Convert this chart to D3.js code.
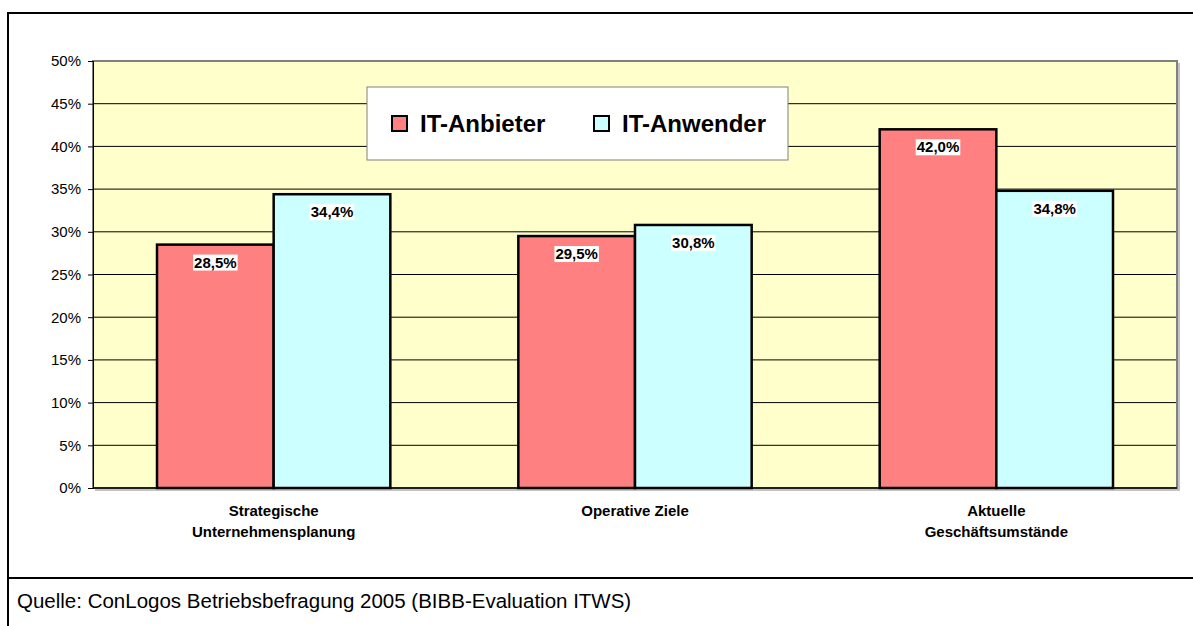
<!DOCTYPE html>
<html><head><meta charset="utf-8">
<script src="https://cdn.jsdelivr.net/npm/d3@7"></script>
<style>body{margin:0;background:#fff}svg{display:block;font-family:Arial,"Liberation Sans",sans-serif}</style>
</head><body>
<script>
const categories = [["Strategische","Unternehmensplanung"],["Operative Ziele"],["Aktuelle","Geschäftsumstände"]];
const seriesNames = ["IT-Anbieter","IT-Anwender"];
const anbieter = [28.5, 29.5, 42.0];
const anwender = [34.4, 30.8, 34.8];
const yTicks = [0,5,10,15,20,25,30,35,40,45,50];
const colors = ["#FF8080","#CCFFFF"];
const source = "Quelle: ConLogos Betriebsbefragung 2005 (BIBB-Evaluation ITWS)";

const W=1193,H=626;
const svg=d3.select("body").append("svg").attr("width",W).attr("height",H);
const L=93,R=1177,T=61,B=488;
const x0=d3.scaleBand().domain(d3.range(categories.length)).range([L,R]).paddingInner(0).paddingOuter(0);
const x1=d3.scaleBand().domain([0,1]).range([64, x0.bandwidth()-64]);
const y=d3.scaleLinear().domain([0,50]).range([B,T]);

// frame
svg.append("path").attr("d",`M8,${H+2}V13H${W+2}`).attr("fill","none").attr("stroke","#000").attr("stroke-width",2);
svg.append("line").attr("x1",8).attr("x2",W+2).attr("y1",578).attr("y2",578).attr("stroke","#000").attr("stroke-width",2);

// plot bg
svg.append("rect").attr("x",L).attr("y",T).attr("width",R-L).attr("height",B-T).attr("fill","#FFFFCC");
// gridlines
svg.append("g").selectAll("line").data(yTicks).join("line")
  .attr("x1",L).attr("x2",R).attr("y1",d=>y(d)).attr("y2",d=>y(d)).attr("stroke","#000").attr("stroke-width",1);
// plot border
svg.append("rect").attr("x",L).attr("y",T).attr("width",R-L).attr("height",B-T).attr("fill","none").attr("stroke","#808080").attr("stroke-width",2);
svg.append("path").attr("d",`M${R+2},${T+2}V${B+2}H${L+2}`).attr("fill","none").attr("stroke","#b0b0b0").attr("stroke-width",1.5);

// y axis
const yAxis=d3.axisLeft(y).tickValues(yTicks).tickFormat(d=>d+"%").tickSize(5).tickPadding(7);
const ga=svg.append("g").attr("transform",`translate(${L},0)`).call(yAxis);
ga.select(".domain").attr("stroke","#000");
ga.selectAll(".tick line").attr("stroke","#000");
ga.selectAll("text").attr("font-size",15).attr("fill","#000").attr("font-family","Arial,'Liberation Sans',sans-serif");

// bars
const series=[anbieter,anwender];
const g=svg.append("g");
series.forEach((vals,si)=>{
  g.selectAll(".b"+si).data(vals).join("rect")
   .attr("x",(d,i)=>x0(i)+x1(si)).attr("y",d=>y(d))
   .attr("width",x1.bandwidth()).attr("height",d=>B-y(d))
   .attr("fill",colors[si]).attr("stroke","#000").attr("stroke-width",2.5);
});
svg.append("line").attr("x1",L).attr("x2",R).attr("y1",B).attr("y2",B).attr("stroke","#000").attr("stroke-width",1.5);

// value labels
series.forEach((vals,si)=>{
  vals.forEach((v,i)=>{
    const cx=x0(i)+x1(si)+x1.bandwidth()/2, cy=y(v)+19;
    const txt=v.toFixed(1).replace(".",",")+"%";
    const t=svg.append("text").attr("x",cx).attr("y",cy).attr("text-anchor","middle").attr("dominant-baseline","middle")
      .attr("font-size",15).attr("font-weight","bold").text(txt);
    const bb=t.node().getBBox();
    svg.insert("rect",()=>t.node()).attr("x",bb.x-1).attr("y",bb.y+1).attr("width",bb.width+2).attr("height",bb.height-1).attr("fill","#fff");
  });
});

// category labels
categories.forEach((lines,i)=>{
  const cx=x0(i)+x0.bandwidth()/2;
  const t=svg.append("text").attr("x",cx).attr("y",516).attr("text-anchor","middle").attr("font-size",15).attr("font-weight","bold");
  lines.forEach((ln,k)=>t.append("tspan").attr("x",cx).attr("dy",k?21:0).text(ln));
});

// legend
svg.append("rect").attr("x",367).attr("y",87).attr("width",421).attr("height",73).attr("fill","#fff").attr("stroke","#808080").attr("stroke-width",1);
const legX=[391,593];
seriesNames.forEach((n,i)=>{
  svg.append("rect").attr("x",legX[i]+1).attr("y",116).attr("width",15).attr("height",15).attr("fill",colors[i]).attr("stroke","#000").attr("stroke-width",2);
  svg.append("text").attr("x",legX[i]+29).attr("y",132).attr("font-size",24).attr("font-weight","bold").text(n);
});

// source
svg.append("text").attr("x",17).attr("y",608).attr("font-size",20.5).text(source);
</script>
</body></html>
